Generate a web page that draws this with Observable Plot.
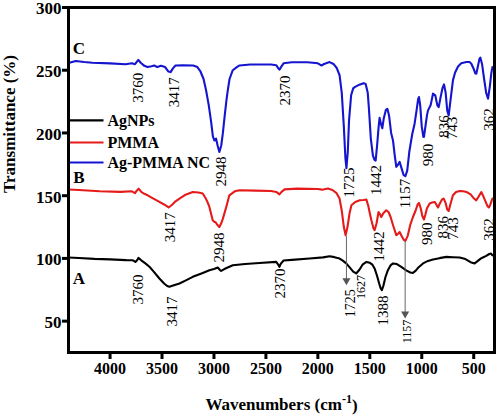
<!DOCTYPE html>
<html><head><meta charset="utf-8">
<script src="https://cdn.jsdelivr.net/npm/d3@7"></script>
<script src="https://cdn.jsdelivr.net/npm/@observablehq/plot@0.6"></script>
<style>body{margin:0;background:#fff}</style>
</head><body><div id="chart"></div>
<script>
const seriesNames = ["AgNPs", "PMMA", "Ag-PMMA NC"];
const seriesColors = ["#000000", "#e51a1a", "#1515d0"];
const seriesLetters = ["A", "B", "C"];
const xTicks = [4000, 3500, 3000, 2500, 2000, 1500, 1000, 500];
const yTicks = [50, 100, 150, 200, 250, 300];

// A: AgNPs (black)
const agnpsWn = [4400,4300,4150,4000,3846,3780,3756,3740,3727,3700,3660,3621,3580,3525,3480,3450,3429,3400,3332,3270,3204,3120,3044,3000,2963,2945,2931,2900,2819,2700,2562,2401,2385,2370,2355,2330,2250,2080,1950,1887,1840,1791,1760,1727,1690,1660,1631,1600,1570,1533,1500,1475,1454,1430,1410,1395,1384,1370,1350,1326,1300,1277,1240,1197,1150,1110,1085,1060,1030,988,940,892,830,763,700,636,580,530,491,460,430,412,380,350,333,320];
const agnpsT = [100.7,100.3,99.6,99.2,98.6,98.5,97.2,98.5,100.4,98.5,96,93.3,89.5,84,80,78,77.4,78.2,80,82.5,85.3,88,90.6,91.5,92.7,91,90,91.5,94.6,95.6,96.4,97.2,95.5,93.3,96,98.3,98.8,99.9,100.8,101.7,101,99.9,98.2,96,92.5,89.5,88,91,95,97.2,96.5,95,92,86,80,76,74.7,78,85,90.6,94.5,96,95.5,93.3,90.5,88.8,88.5,90,93,96,98,99.1,100.2,101.2,100.9,100.7,99.5,97,96,98,100,100.7,102,103.5,103.9,102.5];

// B: PMMA (red)
const pmmaWn = [4400,4300,4100,3900,3790,3760,3745,3725,3700,3670,3638,3600,3525,3480,3436,3400,3370,3332,3280,3204,3150,3108,3080,3060,3044,3012,2995,2986,2970,2948,2930,2915,2900,2875,2852,2800,2754,2600,2450,2400,2370,2350,2320,2200,2000,1960,1903,1860,1820,1791,1770,1750,1733,1715,1695,1677,1640,1597,1560,1533,1515,1500,1485,1465,1454,1435,1416,1400,1390,1370,1342,1320,1300,1275,1245,1230,1213,1195,1175,1158,1135,1110,1085,1060,1040,1027,1010,995,979,965,950,924,900,876,860,844,825,805,789,770,755,741,725,700,670,636,600,571,530,500,475,455,427,410,390,370,354,340,320];
const pmmaT = [154.9,154.5,153.5,153,153.5,152,153.8,155.6,153,151.5,150.3,148.5,145,143,140.6,143,145.5,147.7,150.5,152.9,152.5,151.7,148,144.5,141,130.4,129,129,127,125,128,131.5,135.7,143,150.3,153.5,154.3,154,153.7,153,151,153,155,155.6,155.3,154.8,155.7,154.5,152,147.7,138,125,118.5,125,136,142.4,145,146.3,146.6,146.9,142,136,130.4,124,122.5,128,137,135,133,136,138.4,137,133,126,118.5,119.5,121,118,115,114,118,127,133,138,143,144.2,140,134,131,135,140,143.7,144.5,145,143,140.6,144,147,147.7,144,139,137.8,143,150.3,153,153.7,153.5,153,151,148,146.3,149,152.9,150,146,142,140.6,143,147.7];

// C: Ag-PMMA NC (blue)
const ncWn = [4400,4330,4250,4170,4000,3850,3790,3760,3745,3728,3705,3670,3640,3600,3575,3545,3510,3470,3440,3417,3395,3370,3300,3200,3160,3130,3100,3076,3050,3027,3010,2995,2980,2965,2948,2930,2915,2895,2880,2867,2850,2819,2780,2754,2650,2562,2450,2400,2380,2370,2355,2330,2250,2100,2000,1967,1940,1887,1850,1820,1791,1770,1750,1735,1725,1712,1700,1680,1660,1646,1600,1560,1540,1520,1509,1490,1470,1455,1444,1430,1415,1406,1392,1380,1365,1345,1331,1315,1295,1277,1260,1245,1230,1213,1195,1175,1158,1140,1120,1100,1091,1069,1050,1035,1027,1015,1000,985,979,965,950,940,915,892,870,850,837,820,800,786,770,755,741,725,700,680,651,620,571,540,523,500,485,475,460,445,436,420,400,380,362,345,330,320];
const ncT = [255.7,257.3,256.5,256,255.5,254.8,255.5,254.8,256.5,258.2,256,253.5,252.5,253.2,253.8,252.5,253.6,252.5,249,248.5,251.5,253.8,254,253.8,252.5,249,243,234,222,208.7,197,194,195.5,190,184.8,190,199.4,215,226,234,243,250,252.5,253.8,254.6,254.6,254.6,254,251.5,250.4,252.5,255.5,256.4,256.4,255.5,253.8,255,256.5,255,252,246,232,205,180,172,185,210,230,235.5,236.5,238.5,239.7,239,232,220,195,182,178.5,178,190,205,212,207,203.7,212,218.5,219.3,214,200,194,182,173,174.5,177,172,166.5,165.5,170,185,195,199.4,207.4,218,227,228.6,222,205,197,196.8,205,214,218,222,231.3,230,222,220.6,228,236,238.7,232,218,214,225,241.9,248,253,255.5,256.5,256.5,255.2,251,247.5,247.2,253,259,260,255,243,232,227.3,237,248,252.5];

// peak labels (normal size): text, wavenumber, transmittance at label centre
const peakText = ["3760","3417","2948","2370","1725","1442","1157","980","836","743","362",
                  "3417","2948","1442","980","836","743","362",
                  "3760","3417","2370","1388"];
const peakWn = [3726,3387,2932,2312,1702,1440,1157,940,788,707,355,
                3418,2947,1407,948,794,697,355,
                3729,3404,2360,1371];
const peakT = [236,232.5,169.3,233.8,160.5,162.5,151.7,182.4,205.1,204,210.7,
               124.9,108.7,109.5,119.6,124.9,123.8,123,
               75.2,57.7,80,58.5];
// smaller peak labels on the AgNPs trace
const smallPeakText = ["1725","1627","1157"];
const smallPeakWn = [1690,1580,1138];
const smallPeakT = [64.3,77.2,41.8];
const smallPeakSize = [14,12,12];

// arrows from PMMA bands down to AgNPs trace
const arrowWn = [1725,1160];
const arrowFromT = [117.8,113.8];
const arrowToT = [82.4,55.8];

const legendT = [210,192.4,176.4];
const letterWn = [4300,4300,4300];
const letterT = [84,164.5,267.3];

const xLabel = "Wavenumbers (cm-1)";
const yLabel = "Transmittance (%)";

const rows = [];
[[agnpsWn, agnpsT], [pmmaWn, pmmaT], [ncWn, ncT]].forEach(([w, t], s) => {
  w.forEach((v, i) => rows.push({series: seriesNames[s], wn: v, t: t[i]}));
});

const serif = "'Liberation Serif', 'Times New Roman', serif";
const idx3 = [0, 1, 2];

const plot = Plot.plot({
  width: 500, height: 417,
  marginLeft: 68, marginRight: 6, marginTop: 7, marginBottom: 65,
  x: {domain: [4400, 300]},
  y: {domain: [25, 300]},
  color: {domain: seriesNames, range: seriesColors},
  style: {fontFamily: serif, color: "#000", background: "#fff", overflow: "visible"},
  marks: [
    Plot.axisX({ticks: xTicks, tickFormat: d => String(d), tickSize: 7, tickPadding: 3, strokeWidth: 3, fontSize: 16, fontWeight: "bold", label: null}),
    Plot.axisY({ticks: yTicks, tickSize: 6, tickFormat: () => "", strokeWidth: 3, label: null}),
    Plot.text(yTicks, {y: d => d, frameAnchor: "left", dx: -7, dy: 1.5, text: d => String(d), textAnchor: "end", fontSize: 17, fontWeight: "bold", fill: "#000"}),
    Plot.line(rows, {x: "wn", y: "t", z: "series", stroke: "series", strokeWidth: 2.1, curve: "linear"}),
    Plot.link(arrowWn, {x1: d => d, x2: d => d, y1: (d, i) => arrowFromT[i], y2: (d, i) => arrowToT[i], stroke: "#666", strokeWidth: 1}),
    Plot.dot(arrowWn, {x: d => d, y: (d, i) => arrowToT[i], symbol: "triangle", r: 3, fill: "#555", stroke: "none", rotate: 180}),
    Plot.text(peakText, {x: (d, i) => peakWn[i], y: (d, i) => peakT[i], text: d => d, rotate: -90, fontSize: 15, fill: "#000"}),
    Plot.text(smallPeakText, {x: (d, i) => smallPeakWn[i], y: (d, i) => smallPeakT[i], text: d => d, rotate: -90, fontSize: (d, i) => smallPeakSize[i], fill: "#000"}),
    Plot.link(idx3, {x1: 4400, x2: 4063, y1: i => legendT[i], y2: i => legendT[i], stroke: i => seriesNames[i], strokeWidth: 2.1}),
    Plot.text(idx3, {x: 4025, y: i => legendT[i], text: i => seriesNames[i], textAnchor: "start", fontSize: 16, fontWeight: "bold", fill: "#000"}),
    Plot.text(idx3, {x: i => letterWn[i], y: i => letterT[i], text: i => seriesLetters[i], fontSize: 17, fontWeight: "bold", fill: "#000"}),
    Plot.text([yLabel], {frameAnchor: "left", dx: -59, dy: 13, rotate: -90, fontSize: 17, fontWeight: "bold", fill: "#000"}),
    Plot.text([xLabel], {frameAnchor: "bottom", dy: 57, fontSize: 17, fontWeight: "bold", fill: "#000"}),
    Plot.frame({stroke: "#000", strokeWidth: 3})
  ]
});
document.getElementById("chart").appendChild(plot);

// superscript for the x-axis unit
d3.select(plot).selectAll("text").filter(function() { return this.textContent === xLabel; })
  .each(function() {
    const t = d3.select(this);
    t.text(null);
    t.append("tspan").text("Wavenumbers (cm");
    t.append("tspan").attr("dy", "-0.55em").attr("font-size", "12px").text("-1");
    t.append("tspan").attr("dy", "0.45em").text(")");
  });
</script>
</body></html>
